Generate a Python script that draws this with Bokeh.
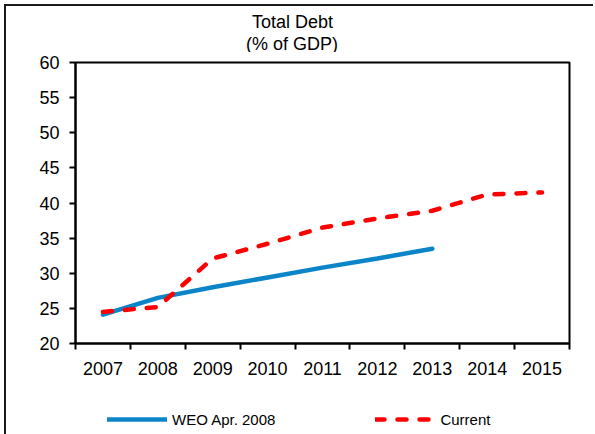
from bokeh.plotting import figure
from bokeh.layouts import column
from bokeh.models import (Range1d, FixedTicker, Legend, LegendItem, ColumnDataSource)
from bokeh.core.properties import value
from bokeh.embed import file_html
from bokeh.resources import INLINE

# ---- data ----
years = ["2007", "2008", "2009", "2010", "2011", "2012", "2013", "2014", "2015"]
weo_years = ["2007", "2008", "2009", "2010", "2011", "2012", "2013"]
weo_apr_2008 = [24.1, 26.5, 28.0, 29.4, 30.8, 32.1, 33.5]
current = [24.5, 25.2, 32.1, 34.2, 36.5, 37.8, 38.9, 41.2, 41.5]
y_ticks = [20, 25, 30, 35, 40, 45, 50, 55, 60]
title_lines = ["Total Debt", "(% of GDP)"]
series_names = ["WEO Apr. 2008", "Current"]

FONT = "Liberation Sans"
BLUE = "#0B84C8"
RED = "#FF0000"
W = 589
LEFT, RIGHT = 69, 26          # frame borders shared by all stacked figures
BORDER = "2px solid #1a1a1a"

def pos(labels):
    return [years.index(y) + 0.5 for y in labels]

def strip(height, inner):
    # frames in a column are aligned with the main chart's frame, so map x 1:1 to canvas px
    f = figure(width=W, height=height, output_backend="svg", toolbar_location=None,
               x_axis_type=None, y_axis_type=None,
               x_range=Range1d(LEFT, W - RIGHT), y_range=Range1d(0, inner), min_border=0)
    f.xgrid.visible = False
    f.ygrid.visible = False
    f.outline_line_color = None
    return f

# ---- title strip ----
tt = strip(48, 46)
tt.styles = {"margin-left": "4px", "margin-top": "4px", "border-top": BORDER, "border-left": BORDER}
tt.text(x=[286, 285.5], y=[31, 10], text=title_lines, text_align="center",
        text_baseline="middle", text_font=value(FONT), text_font_size="18px",
        text_color="black")

# ---- main chart ----
p = figure(width=W, height=334, output_backend="svg", toolbar_location=None,
           x_range=Range1d(0, len(years)), y_range=Range1d(20, 60),
           min_border_left=LEFT, min_border_right=RIGHT, min_border_top=10, min_border_bottom=43)
p.styles = {"margin-left": "4px", "border-left": BORDER}
p.title.visible = False
p.xgrid.visible = False
p.ygrid.visible = False
p.outline_line_color = "black"
p.outline_line_width = 2
p.outline_line_alpha = 1

# y axis
p.yaxis.ticker = FixedTicker(ticks=y_ticks)
p.yaxis.axis_line_width = 2
p.yaxis.axis_line_color = "black"
p.yaxis.major_tick_line_width = 2
p.yaxis.major_tick_line_color = "black"
p.yaxis.major_tick_out = 6
p.yaxis.major_tick_in = 0
p.yaxis.minor_tick_line_color = None
p.yaxis.major_label_text_font = FONT
p.yaxis.major_label_text_font_size = "18px"
p.yaxis.major_label_text_color = "black"
p.yaxis.major_label_standoff = 10

# x axis: labels at category centres, tick marks between categories
centres = [i + 0.5 for i in range(len(years))]
p.xaxis.ticker = FixedTicker(ticks=centres, minor_ticks=list(range(len(years) + 1)))
p.xaxis.major_label_overrides = {c: y for c, y in zip(centres, years)}
p.xaxis.axis_line_width = 2
p.xaxis.axis_line_color = "black"
p.xaxis.major_tick_line_color = None
p.xaxis.major_tick_out = 0
p.xaxis.major_tick_in = 0
p.xaxis.minor_tick_line_color = "black"
p.xaxis.minor_tick_line_width = 2
p.xaxis.minor_tick_out = 6
p.xaxis.minor_tick_in = 0
p.xaxis.major_label_text_font = FONT
p.xaxis.major_label_text_font_size = "18px"
p.xaxis.major_label_text_color = "black"
p.xaxis.major_label_standoff = 12

line_w = dict(line_color=BLUE, line_width=4.5, line_cap="round")
line_c = dict(line_color=RED, line_width=4.5, line_cap="round", line_dash="9 13", line_join="round")

src_w = ColumnDataSource(dict(x=pos(weo_years), y=weo_apr_2008))
src_c = ColumnDataSource(dict(x=pos(years), y=current))
p.line("x", "y", source=src_w, **line_w)
p.line("x", "y", source=src_c, **line_c)

# ---- legend strip ----
lg = strip(48, 48)
lg.styles = {"margin-left": "4px", "border-left": BORDER}
lw = lg.line("x", "y", source=src_w, visible=False, **line_w)
lc = lg.line("x", "y", source=src_c, visible=False, **line_c)
legend = Legend(items=[LegendItem(label=series_names[0], renderers=[lw]),
                       LegendItem(label=series_names[1], renderers=[lc])],
                location=(32, 5), orientation="horizontal", spacing=100,
                glyph_width=60, glyph_height=20, label_height=20, label_standoff=5,
                padding=0, margin=0,
                border_line_alpha=0, background_fill_alpha=0,
                inactive_fill_alpha=0,
                label_text_font=FONT, label_text_font_size="15px", label_text_color="black")
lg.add_layout(legend, "center")

layout = column(tt, p, lg, spacing=0)
open("out.html", "w").write(file_html(layout, INLINE))
